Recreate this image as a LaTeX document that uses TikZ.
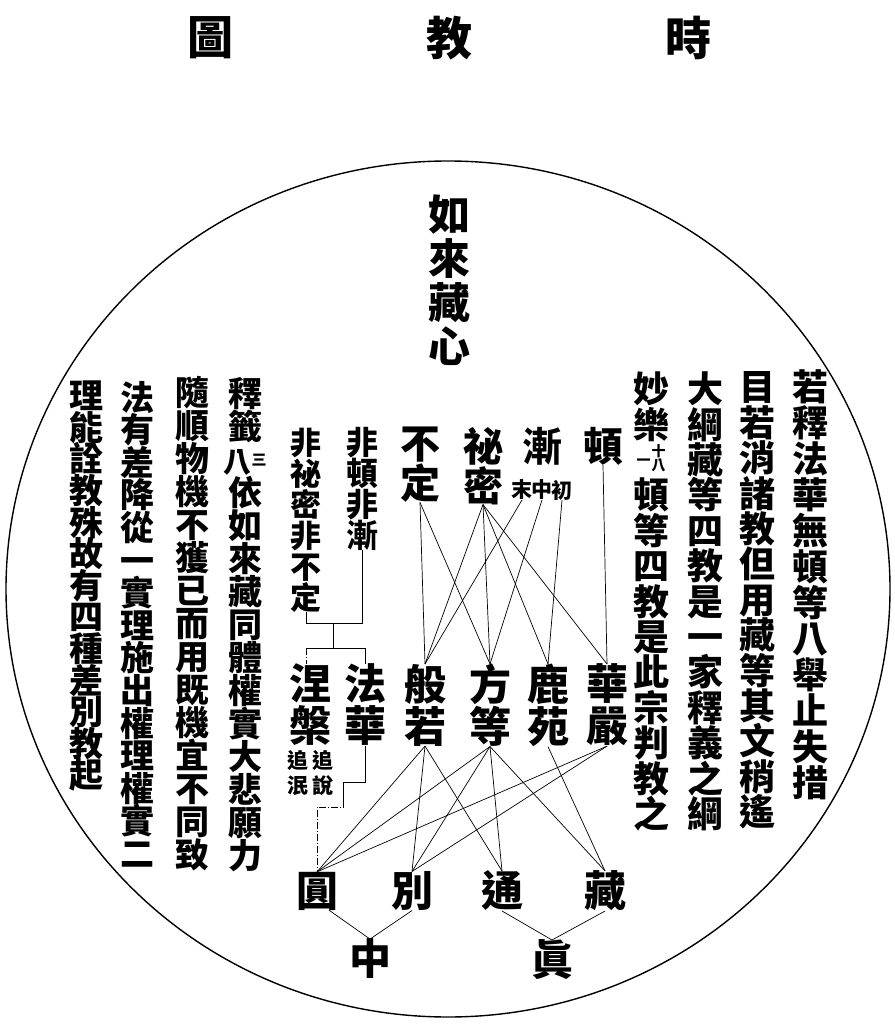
\documentclass[tikz,border=0pt]{standalone}
\usepackage{fontspec}
\setmainfont{Noto Sans CJK TC}
\usetikzlibrary{calc}
\newcommand\fz[2]{\fontsize{#1}{#2}\selectfont\bfseries\lineskiplimit=-100pt\relax}
\newcommand\cellA{\makebox[30pt]{\fontsize{14}{14}\selectfont\raisebox{8pt}{一}\hspace{1pt}\raisebox{3pt}{\vbox{\hbox{十}\hbox{八}}}}}
\newcommand\cellB{\makebox[32pt]{\fontsize{28}{28}\selectfont 八\fontsize{15}{15}\selectfont\raisebox{7pt}{三}}}
\begin{document}
\begin{tikzpicture}[x=1pt,y=-1pt,
  every node/.style={inner sep=0pt,outer sep=0pt},
  vcol/.style={anchor=north,align=center},
  conn/.style={line width=0.7pt},
  dashdot/.style={line width=0.7pt,dash pattern=on 7pt off 2pt on 1pt off 2pt}]
\fill[white] (0,0) rectangle (894,1032);
\useasboundingbox (0,0) rectangle (894,1032);
% frame
\draw[line width=1.4pt] (448,589) ellipse [x radius=442pt, y radius=428pt];
% title
\node[font=\fz{46}{46}] (t1) at (210,38) {圖};
\node[font=\fz{46}{46}] (t2) at (449,38) {教};
\node[font=\fz{46}{46}] (t3) at (688,38) {時};
% centre
\node[vcol,font=\fz{42}{44}] (rlzx) at (449,195) {如\\來\\藏\\心};
% right text
\node[vcol,font=\fz{36}{36}] (r1) at (810,370) {若\\釋\\法\\華\\無\\頓\\等\\八\\舉\\止\\失\\措};
\node[vcol,font=\fz{36}{35.4}] (r2) at (757,372) {目\\若\\消\\諸\\教\\但\\用\\藏\\等\\其\\文\\稍\\遙};
\node[vcol,font=\fz{36}{35.4}] (r3) at (705,372) {大\\綱\\藏\\等\\四\\教\\是\\一\\家\\釋\\義\\之\\綱};
\node[vcol,font=\fz{36}{35.4}] (r4) at (651,372) {妙\\樂\\\cellA\\頓\\等\\四\\教\\是\\此\\宗\\判\\教\\之};
% left text
\node[vcol,font=\fz{34}{33}] (l1) at (245,377) {釋\\籤\\\cellB\\依\\如\\來\\藏\\同\\體\\權\\實\\大\\悲\\願\\力};
\node[vcol,font=\fz{34}{33}] (l2) at (192,376) {隨\\順\\物\\機\\不\\獲\\已\\而\\用\\既\\機\\宜\\不\\同\\致};
\node[vcol,font=\fz{34}{32.6}] (l3) at (137,381) {法\\有\\差\\降\\從\\一\\實\\理\\施\\出\\權\\理\\權\\實\\二};
\node[vcol,font=\fz{34}{31.6}] (l4) at (86,381) {理\\能\\詮\\教\\殊\\故\\有\\四\\種\\差\\別\\教\\起};
% top row of the chart
\node[vcol,font=\fz{32}{31}] (fdfj) at (362,427) {非\\頓\\非\\漸};
\node[vcol,font=\fz{31}{31}] (fmbd) at (306,428) {非\\祕\\密\\非\\不\\定};
\node[vcol,font=\fz{40}{40}] (buding) at (420,427) {不\\定};
\node[vcol,font=\fz{40}{40}] (mimi) at (483,427) {祕\\密};
\node[vcol,font=\fz{40}{40}] (jian) at (542,427) {漸};
\node[font=\fz{21}{21}] (jmo) at (522,490) {末};
\node[font=\fz{21}{21}] (jzh) at (542,490) {中};
\node[font=\fz{21}{21}] (jch) at (562,490) {初};
\node[vcol,font=\fz{40}{40}] (dun) at (603,427) {頓};
% middle row
\node[vcol,font=\fz{42}{42}] (nieban) at (310,664) {涅\\槃};
\node[vcol,font=\fz{42}{42}] (fahua) at (365,664) {法\\華};
\node[vcol,font=\fz{42}{42}] (bore) at (425,664) {般\\若};
\node[vcol,font=\fz{42}{42}] (fangdeng) at (490,664) {方\\等};
\node[vcol,font=\fz{42}{42}] (luyuan) at (548,664) {鹿\\苑};
\node[vcol,font=\fz{42}{42}] (huayan) at (607,664) {華\\嚴};
\node[vcol,font=\fz{21}{25}] (zhuishuo) at (323,751) {追\\說};
\node[vcol,font=\fz{21}{25}] (zhuimin) at (298,751) {追\\泯};
% bottom rows
\node[font=\fz{42}{42}] (yuan) at (317,891) {圓};
\node[font=\fz{42}{42}] (bie) at (412,891) {別};
\node[font=\fz{42}{42}] (tong) at (502,891) {通};
\node[font=\fz{42}{42}] (zang) at (605,891) {藏};
\node[font=\fz{42}{42}] (zhong) at (370,959) {中};
\node[font=\fz{42}{42}] (zhen) at (552,960) {眞};
% bracket of 法華 涅槃
\coordinate (brA) at (333,623);
\coordinate (brB) at (333,648);
\draw[conn] (fdfj.south) -- (fdfj.south |- brA) -- (fmbd.south |- brA) -- (fmbd.south);
\draw[conn] (brA) -- (brB);
\draw[conn] (fmbd.south |- brB) -- (fahua.north |- brB) -- (fahua.north);
\draw[dashdot] (fmbd.south |- brB) -- (fmbd.south |- nieban.north);
\coordinate (fhA) at (343,782);
\coordinate (fhC) at (343,800);
\coordinate (fhB) at (343,807);
\draw[conn] (fahua.south) -- (fahua.south |- fhA) -- (fhA) -- (fhC);
\draw[dashdot] (fhC) -- (fhB) -- (yuan.north |- fhB) -- (yuan.north);
% top row to middle row
\draw[conn] (buding.south) -- (bore.north);
\draw[conn] (buding.south) -- (fangdeng.north);
\draw[conn] (mimi.south) -- (bore.north);
\draw[conn] (mimi.south) -- (fangdeng.north);
\draw[conn] (mimi.south) -- (luyuan.north);
\draw[conn] (mimi.south) -- (huayan.north);
\draw[conn] (jmo.south) -- (bore.north);
\draw[conn] (jzh.south) -- (fangdeng.north);
\draw[conn] (jch.south) -- (luyuan.north);
\draw[conn] (dun.south) -- (huayan.north);
% middle row to bottom row
\draw[conn] (bore.south) -- (yuan.north);
\draw[conn] (bore.south) -- (bie.north);
\draw[conn] (bore.south) -- (tong.north);
\draw[conn] (fangdeng.south) -- (yuan.north);
\draw[conn] (fangdeng.south) -- (bie.north);
\draw[conn] (fangdeng.south) -- (tong.north);
\draw[conn] (fangdeng.south) -- (zang.north);
\draw[conn] (luyuan.south) -- (zang.north);
\draw[conn] (huayan.south) -- (yuan.north);
\draw[conn] (huayan.south) -- (bie.north);
% to 中 and 眞
\draw[conn] ([xshift=12pt]yuan.south) -- (zhong.north);
\draw[conn] (bie.south) -- (zhong.north);
\draw[conn] (tong.south) -- (zhen.north);
\draw[conn] (zang.south) -- (zhen.north);
\end{tikzpicture}
\end{document}
